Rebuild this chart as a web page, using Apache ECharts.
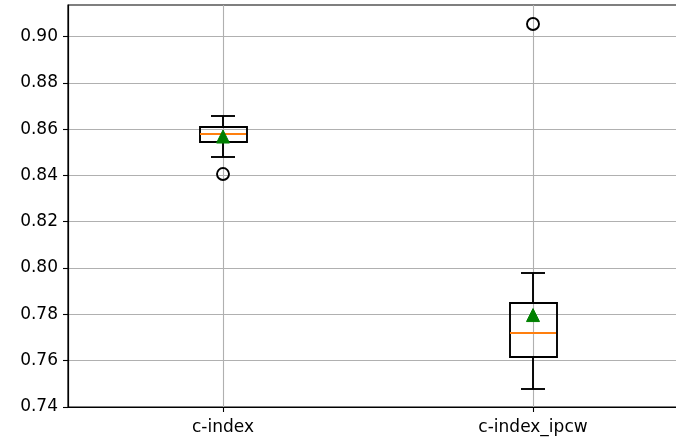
<!DOCTYPE html>
<html>
<head>
<meta charset="utf-8">
<script src="https://cdn.jsdelivr.net/npm/echarts@6/dist/echarts.min.js"></script>
<style>
html,body{margin:0;padding:0;background:#fff;}
#chart{width:676px;height:443px;}
</style>
</head>
<body>
<div id="chart"></div>
<script>
var categories = ['c-index', 'c-index_ipcw'];
var positions = [1, 2];
var whiskerLow = [0.8479, 0.7478];
var q1 = [0.8545, 0.7615];
var median = [0.8581, 0.7718];
var q3 = [0.8610, 0.7851];
var whiskerHigh = [0.8657, 0.7978];
var means = [0.8568, 0.7797];
var outlierCat = [0, 1];
var outlierVal = [0.8406, 0.9054];
var yTicks = [0.74, 0.76, 0.78, 0.80, 0.82, 0.84, 0.86, 0.88, 0.90];

var boxData = categories.map(function (c, i) {
  return [positions[i], whiskerLow[i], q1[i], median[i], q3[i], whiskerHigh[i], means[i]];
});
var outlierData = outlierCat.map(function (ci, k) { return [positions[ci], outlierVal[k]]; });

var FONT = 'DejaVu Sans';
var chart = echarts.init(document.getElementById('chart'), null, {renderer: 'canvas'});

function renderBox(params, api) {
  var x = api.value(0);
  var R = Math.round;
  var lo = api.coord([x, api.value(1)]);
  var b1 = api.coord([x, api.value(2)]);
  var md = api.coord([x, api.value(3)]);
  var b3 = api.coord([x, api.value(4)]);
  var hi = api.coord([x, api.value(5)]);
  var mn = api.coord([x, api.value(6)]);
  var w = api.size([0.15, 0])[0];
  var cx = R(lo[0]);
  var lw = 1.9;
  var black = {stroke: '#000', lineWidth: lw, fill: null};
  var r = 6.5;
  return {
    type: 'group',
    children: [
      {type: 'line', shape: {x1: cx, y1: R(b1[1]), x2: cx, y2: R(lo[1])}, style: black},
      {type: 'line', shape: {x1: cx, y1: R(b3[1]), x2: cx, y2: R(hi[1])}, style: black},
      {type: 'line', shape: {x1: R(cx - w / 4), y1: R(lo[1]), x2: R(cx + w / 4), y2: R(lo[1])}, style: black},
      {type: 'line', shape: {x1: R(cx - w / 4), y1: R(hi[1]), x2: R(cx + w / 4), y2: R(hi[1])}, style: black},
      {type: 'rect', shape: {x: R(cx - w / 2), y: R(b3[1]), width: R(w), height: R(b1[1]) - R(b3[1])}, style: {stroke: '#000', lineWidth: lw, fill: 'none'}},
      {type: 'line', shape: {x1: R(cx - w / 2), y1: R(md[1]), x2: R(cx + w / 2), y2: R(md[1])}, style: {stroke: '#ff7f0e', lineWidth: lw}},
      {type: 'polygon', shape: {points: [[cx, mn[1] - r], [cx - r, mn[1] + r], [cx + r, mn[1] + r]]}, style: {fill: '#008000', stroke: '#008000', lineWidth: 1}}
    ]
  };
}

var option = {
  animation: false,
  backgroundColor: '#ffffff',
  grid: {left: 68, top: 5, width: 620, height: 402, outerBoundsMode: 'none', containLabel: false, show: true, borderColor: '#000', borderWidth: 1.2, backgroundColor: 'transparent'},
  xAxis: {
    type: 'value', min: 0.5, max: 2.5,
    axisLine: {show: true, onZero: false, lineStyle: {color: '#000', width: 1.2}},
    splitLine: {show: false},
    axisTick: {show: true, customValues: positions, length: 5, lineStyle: {color: '#000', width: 1.1}},
    axisLabel: {
      customValues: positions, margin: 12, color: '#000', fontFamily: FONT, fontSize: 17,
      formatter: function (v) { var i = positions.indexOf(v); return i >= 0 ? categories[i] : ''; }
    }
  },
  yAxis: {
    type: 'value', min: 0.74, max: 0.9136, interval: 0.02,
    axisLine: {show: true, lineStyle: {color: '#000', width: 1.2}},
    splitLine: {show: true, lineStyle: {color: '#b0b0b0', width: 1.1}},
    axisTick: {show: true, customValues: yTicks, length: 5, lineStyle: {color: '#000', width: 1.1}},
    axisLabel: {
      customValues: yTicks, margin: 10, color: '#000', fontFamily: FONT, fontSize: 17,
      formatter: function (v) { return v.toFixed(2); }
    }
  },
  series: [
    {
      type: 'line', data: [], z: 0, zlevel: 0, silent: true,
      markLine: {
        z: 0, silent: true, symbol: 'none', label: {show: false},
        lineStyle: {color: '#b0b0b0', width: 1.1, type: 'solid'},
        data: positions.map(function (p) { return {xAxis: p}; })
      }
    },
    {type: 'custom', renderItem: renderBox, data: boxData, z: 10, encode: {x: 0, y: [1, 2, 3, 4, 5, 6]}},
    {
      type: 'scatter', data: outlierData, z: 11, symbol: 'circle', symbolSize: 12,
      itemStyle: {color: 'rgba(0,0,0,0)', borderColor: '#000', borderWidth: 1.9, opacity: 1}
    }
  ]
};
chart.setOption(option);
</script>
</body>
</html>
